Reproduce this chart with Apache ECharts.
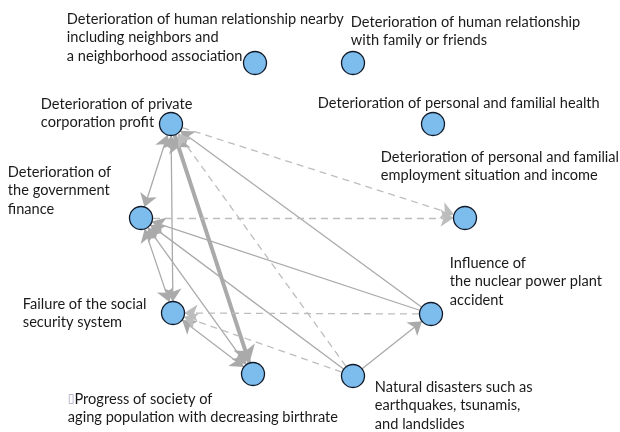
<!DOCTYPE html>
<html>
<head>
<meta charset="utf-8">
<script src="https://cdn.jsdelivr.net/npm/echarts@6/dist/echarts.min.js"></script>
<style>
  html, body { margin: 0; padding: 0; background: #fff; }
  #chart { width: 620px; height: 432px; }
</style>
</head>
<body>
<div id="chart"></div>
<script>
// nodes (factors) and where they sit on the plane
var nodeNames = [
  'Deterioration of human relationship nearby\nincluding neighbors and\na neighborhood association',
  'Deterioration of human relationship\nwith family or friends',
  'Deterioration of personal and familial health',
  'Deterioration of personal and familial\nemployment situation and income',
  'Influence of\nthe nuclear power plant\naccident',
  'Natural disasters such as\nearthquakes, tsunamis,\nand landslides',
  'Progress of society of\naging population with decreasing birthrate',
  'Failure of the social\nsecurity system',
  'Deterioration of\nthe government\nfinance',
  'Deterioration of private\ncorporation profit'
]
var nodeX = [255, 353, 433, 465, 431, 353, 253, 173, 141, 171]
var nodeY = [63, 63, 124, 218, 314, 376, 374, 313, 218, 124]

// links, by node index [from, to]
var oneWayLinks = [[4, 9], [5, 8], [4, 8], [5, 4]]
var mutualLinks = [[9, 8], [9, 7], [8, 7], [7, 6], [8, 6]]
var strongLinks = [[9, 6]]
var weakLinks = [[9, 3], [8, 3], [5, 9], [4, 7], [5, 7]]

// label placement per node (offset from symbol box)
var labelPos = [
  [-176, -41], [10, -38], [-103, -18], [-72, -58], [31, -48],
  [34, 14], [-173, 28], [-138, -6], [-121, -43], [-118, -17]
]

var nodes = nodeNames.map(function (name, i) {
  var text = i === 6 ? '{box|▯}' + name : name
  return {
    name: 'n' + i,
    value: [nodeX[i], nodeY[i]],
    label: {
      show: true,
      position: labelPos[i],
      formatter: text
    }
  }
})

var links = []
var solidStyle = { color: '#aaaaaa', width: 1.3, type: 'solid', opacity: 1 }
oneWayLinks.forEach(function (l) {
  links.push({ source: 'n' + l[0], target: 'n' + l[1], symbol: ['none', 'arrow'], symbolSize: 13, lineStyle: solidStyle })
})
mutualLinks.forEach(function (l) {
  links.push({ source: 'n' + l[0], target: 'n' + l[1], symbol: ['arrow', 'arrow'], symbolSize: 13, lineStyle: solidStyle })
})
strongLinks.forEach(function (l) {
  links.push({ source: 'n' + l[0], target: 'n' + l[1], symbol: ['arrow', 'arrow'], symbolSize: 17, lineStyle: { color: '#aaaaaa', width: 4, type: 'solid', opacity: 1 } })
})
weakLinks.forEach(function (l) {
  links.push({ source: 'n' + l[0], target: 'n' + l[1], symbol: ['none', 'arrow'], symbolSize: 13, lineStyle: { color: '#bdbdbd', width: 1.3, type: [7, 5], opacity: 1 } })
})

var myChart = echarts.init(document.getElementById('chart'))
var option = {
  animation: false,
  grid: { left: 0, right: 0, top: 0, bottom: 0 },
  xAxis: { type: 'value', min: 0, max: 620, show: false },
  yAxis: { type: 'value', min: 0, max: 432, inverse: true, show: false },
  series: [{
    type: 'graph',
    coordinateSystem: 'cartesian2d',
    symbol: 'circle',
    symbolSize: 23,
    itemStyle: { color: '#7cbdee', borderColor: '#111827', borderWidth: 1.3 },
    label: {
      color: '#1a1a1a',
      fontFamily: 'Lato',
      fontSize: 14.6,
      lineHeight: 18.5,
      align: 'left',
      verticalAlign: 'top',
      rich: {
        box: { color: '#a0a0c0', fontFamily: 'DejaVu Sans', fontSize: 12, lineHeight: 18.5 }
      }
    },
    emphasis: { disabled: true },
    z: 2,
    data: nodes,
    links: links
  }]
}
myChart.setOption(option)
</script>
</body>
</html>
